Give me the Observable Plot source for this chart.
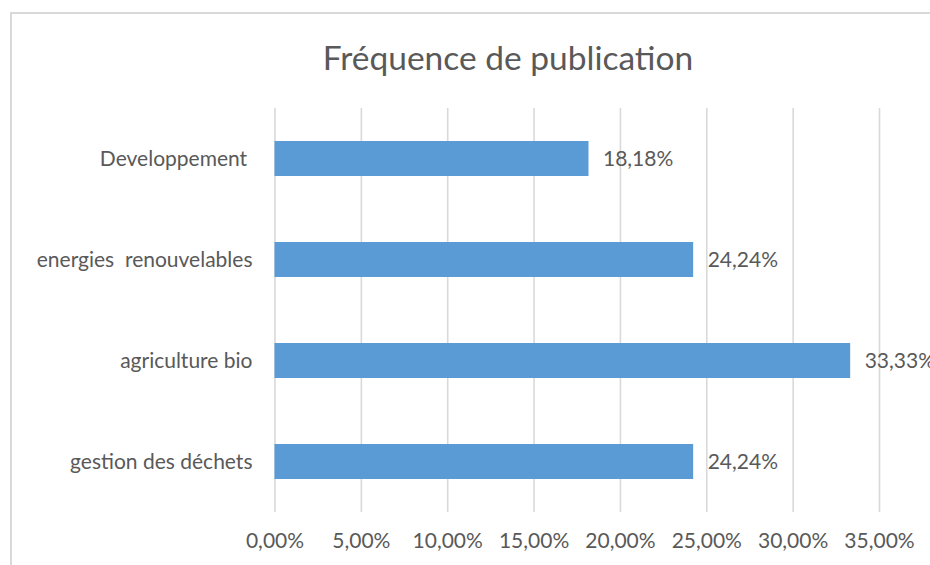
<!DOCTYPE html>
<html>
<head>
<meta charset="utf-8">
<script src="https://cdn.jsdelivr.net/npm/d3@7"></script>
<script src="https://cdn.jsdelivr.net/npm/@observablehq/plot@0.6"></script>
<style>
  html, body { margin: 0; padding: 0; background: #fff; width: 930px; height: 565px; overflow: hidden; }
  #frame { position: absolute; left: 10px; top: 12px; width: 940px; height: 600px;
           border-left: 2px solid #d9d9d9; border-top: 2px solid #d9d9d9; }
  #title { position: absolute; left: 208px; width: 600px; top: 35px; text-align: center;
           font-family: Lato, sans-serif; font-size: 33.5px; color: #595959; line-height: 44px; }
  #chart { position: absolute; left: 0; top: 90px; }
  #chart svg text { white-space: pre; }
</style>
</head>
<body>
<div id="frame"></div>
<div id="title">Fréquence de publication</div>
<div id="chart"></div>
<script>
const categories = ["Developpement ", "energies  renouvelables", "agriculture bio", "gestion des déchets"];
const values = [18.18, 24.24, 33.33, 24.24];
const xTicks = [0, 5, 10, 15, 20, 25, 30, 35];

const fmt = v => v.toFixed(2).replace(".", ",") + "%";
const data = categories.map((c, i) => ({ category: c, value: values[i] }));

const chart = Plot.plot({
  width: 930,
  height: 475,
  marginTop: 18,
  marginBottom: 53,
  marginLeft: 274.5,
  marginRight: 51,
  style: { fontFamily: "Lato, sans-serif", fontSize: "21px", color: "#595959", background: "transparent" },
  x: { domain: [0, 35], ticks: xTicks, tickFormat: fmt, label: null, tickSize: 0, tickPadding: 21 },
  y: { domain: categories, label: null, tickSize: 0, tickPadding: 22.5, paddingInner: 0.653, paddingOuter: 0.3265 },
  marks: [
    Plot.gridX(xTicks, { stroke: "#d9d9d9", strokeOpacity: 1, strokeWidth: 1.6 }),
    Plot.barX(data, { x: "value", y: "category", fill: "#5b9bd5" }),
    Plot.text(data, { x: "value", y: "category", text: d => fmt(d.value), textAnchor: "start", dx: 14, fill: "#595959", fontSize: 21 })
  ]
});
document.getElementById("chart").appendChild(chart);
</script>
</body>
</html>
